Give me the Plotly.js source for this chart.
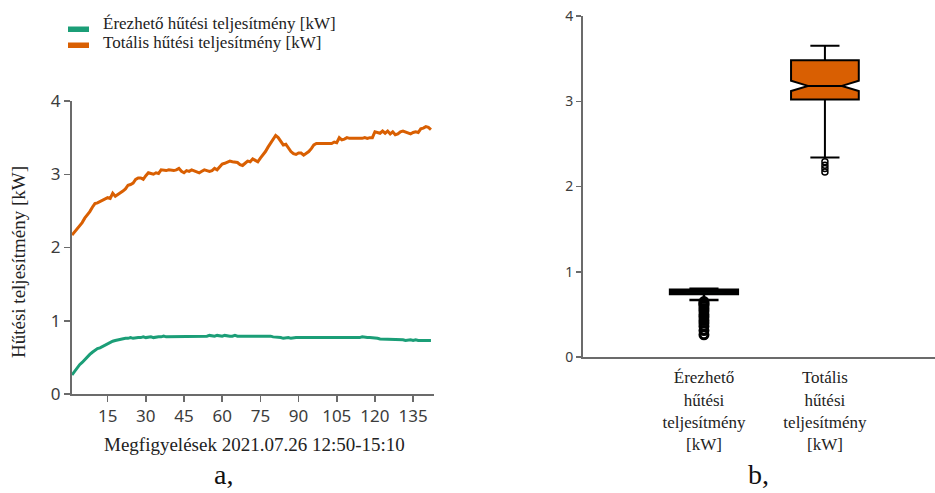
<!DOCTYPE html>
<html>
<head>
<meta charset="utf-8">
<script src="https://cdn.plot.ly/plotly-3.0.1.min.js"></script>
<style>
  html, body { margin: 0; padding: 0; background: #ffffff; }
  #chart { width: 935px; height: 493px; }
</style>
</head>
<body>
<div id="chart"></div>
<script>
// Cooling capacity, one reading per observation (2021.07.26 12:50-15:10)
const sensibleName = "Érezhető hűtési teljesítmény [kW]";
const totalName = "Totális hűtési teljesítmény [kW]";

const sensibleKW = [
  0.26, 0.31, 0.36, 0.40, 0.43, 0.47, 0.50, 0.54, 0.57, 0.60,
  0.62, 0.63, 0.65, 0.67, 0.69, 0.71, 0.72, 0.73, 0.74, 0.75,
  0.75, 0.76, 0.76, 0.77, 0.76, 0.77, 0.77, 0.77, 0.78, 0.77,
  0.78, 0.78, 0.77, 0.78, 0.78, 0.78, 0.79, 0.78, 0.78, 0.79,
  0.78, 0.79, 0.79, 0.79, 0.78, 0.79, 0.79, 0.78, 0.79, 0.79,
  0.79, 0.78, 0.79, 0.79, 0.80, 0.79, 0.79, 0.80, 0.79, 0.79,
  0.80, 0.79, 0.79, 0.79, 0.80, 0.79, 0.79, 0.80, 0.80, 0.79,
  0.80, 0.79, 0.80, 0.79, 0.79, 0.79, 0.80, 0.79, 0.79, 0.78,
  0.78, 0.77, 0.77, 0.76, 0.77, 0.77, 0.76, 0.77, 0.77, 0.77,
  0.77, 0.76, 0.77, 0.77, 0.77, 0.77, 0.76, 0.77, 0.77, 0.77,
  0.77, 0.77, 0.76, 0.77, 0.77, 0.77, 0.76, 0.77, 0.77, 0.77,
  0.77, 0.77, 0.77, 0.77, 0.78, 0.77, 0.77, 0.77, 0.77, 0.76,
  0.76, 0.75, 0.75, 0.75, 0.74, 0.75, 0.74, 0.74, 0.74, 0.74,
  0.74, 0.73, 0.74, 0.74, 0.73, 0.74, 0.73, 0.73, 0.73, 0.73,
  0.73, 0.73
];

const totalKW = [
  2.17, 2.21, 2.25, 2.29, 2.34, 2.40, 2.44, 2.49, 2.55, 2.60,
  2.61, 2.63, 2.65, 2.66, 2.68, 2.67, 2.74, 2.70, 2.72, 2.75,
  2.77, 2.80, 2.85, 2.86, 2.88, 2.93, 2.95, 2.95, 2.93, 2.98,
  3.02, 3.01, 3.00, 3.02, 3.01, 3.06, 3.05, 3.05, 3.06, 3.05,
  3.05, 3.06, 3.08, 3.04, 3.02, 3.05, 3.04, 3.06, 3.05, 3.03,
  3.02, 3.04, 3.06, 3.05, 3.04, 3.05, 3.08, 3.06, 3.10, 3.14,
  3.15, 3.17, 3.18, 3.17, 3.17, 3.16, 3.13, 3.12, 3.15, 3.18,
  3.17, 3.21, 3.19, 3.17, 3.22, 3.26, 3.31, 3.37, 3.42, 3.47,
  3.53, 3.50, 3.44, 3.40, 3.41, 3.36, 3.31, 3.28, 3.27, 3.29,
  3.29, 3.26, 3.28, 3.31, 3.35, 3.40, 3.42, 3.42, 3.43, 3.43,
  3.42, 3.43, 3.42, 3.44, 3.43, 3.50, 3.47, 3.48, 3.50, 3.49,
  3.49, 3.48, 3.49, 3.48, 3.49, 3.50, 3.49, 3.50, 3.50, 3.58,
  3.57, 3.56, 3.59, 3.56, 3.59, 3.55, 3.58, 3.54, 3.55, 3.58,
  3.59, 3.58, 3.56, 3.55, 3.57, 3.58, 3.57, 3.62, 3.63, 3.65,
  3.64, 3.61
];

const xTicks = [15, 30, 45, 60, 75, 90, 105, 120, 135];
const yTicks = [0, 1, 2, 3, 4];
const boxLabels = [
  "Érezhető<br>hűtési<br>teljesítmény<br>[kW]",
  "Totális<br>hűtési<br>teljesítmény<br>[kW]"
];

const GREEN = "#1b9e77";
const ORANGE = "#d95f02";
const AXIS = "#6b6b6b";
const SERIF = "Liberation Serif, Times New Roman, serif";
const SANS = "Noto Sans, Open Sans, sans-serif";

const obs = totalKW.map((_, i) => i + 1);

// pixel helpers for paper-space placement
const W = 935, H = 493;
const px = v => v / W;
const py = v => 1 - v / H;

const traces = [
  {
    type: "scatter", mode: "lines", x: obs, y: sensibleKW, name: sensibleName,
    line: { color: GREEN, width: 3 }, xaxis: "x", yaxis: "y", showlegend: false
  },
  {
    type: "scatter", mode: "lines", x: obs, y: totalKW, name: totalName,
    line: { color: ORANGE, width: 3 }, xaxis: "x", yaxis: "y", showlegend: false
  },
  {
    type: "box", y: sensibleKW, x0: 0, name: sensibleName,
    xaxis: "x2", yaxis: "y2", notched: true, boxpoints: "outliers",
    pointpos: 0, jitter: 0, width: 0.56, whiskerwidth: 0.43,
    fillcolor: "#061410", line: { color: "#000000", width: 2.5 },
    marker: { symbol: "circle-open", color: "#000000", size: 8, line: { width: 3 } },
    showlegend: false
  },
  {
    type: "box", y: totalKW, x0: 1, name: totalName,
    xaxis: "x2", yaxis: "y2", notched: true, boxpoints: "outliers",
    pointpos: 0, jitter: 0, width: 0.56, whiskerwidth: 0.43,
    fillcolor: ORANGE, line: { color: "#000000", width: 2 },
    marker: { symbol: "circle-open", color: "#000000", size: 6, line: { width: 1.5 } },
    showlegend: false
  }
];

const axisCommon = {
  showline: true, linecolor: AXIS, linewidth: 2,
  ticks: "outside", tickcolor: AXIS, tickwidth: 1.5,
  showgrid: false, zeroline: false, fixedrange: true
};

const layout = {
  width: W, height: H,
  margin: { l: 0, r: 0, t: 0, b: 0 },
  paper_bgcolor: "#ffffff", plot_bgcolor: "#ffffff",
  showlegend: false,
  xaxis: Object.assign({}, axisCommon, {
    domain: [px(72), px(434)], range: [1, 143.2],
    tickmode: "array", tickvals: xTicks, ticklen: 6,
    tickfont: { family: SANS, size: 17, color: "#3c3c3c" }
  }),
  yaxis: Object.assign({}, axisCommon, {
    domain: [py(394), py(101)], range: [0, 4],
    tickmode: "array", tickvals: yTicks, ticklen: 6,
    tickfont: { family: SANS, size: 17, color: "#3c3c3c" }
  }),
  xaxis2: Object.assign({}, axisCommon, {
    anchor: "y2", domain: [px(583), 1], range: [-1, 1.91],
    ticks: "", tickmode: "array", tickvals: [0, 1], ticktext: boxLabels,
    ticklabelstandoff: 4,
    tickfont: { family: SERIF, size: 17, color: "#222222" }
  }),
  yaxis2: Object.assign({}, axisCommon, {
    anchor: "x2", domain: [py(357), py(16)], range: [0, 4],
    tickmode: "array", tickvals: yTicks, ticklen: 5,
    tickfont: { family: SANS, size: 14, color: "#3c3c3c" }
  }),
  shapes: [
    { type: "rect", xref: "paper", yref: "paper",
      x0: px(68), x1: px(89), y0: py(32), y1: py(26.5),
      fillcolor: GREEN, line: { width: 0 } },
    { type: "rect", xref: "paper", yref: "paper",
      x0: px(68), x1: px(89), y0: py(48), y1: py(42.5),
      fillcolor: ORANGE, line: { width: 0 } }
  ],
  annotations: [
    { text: sensibleName, xref: "paper", yref: "paper", x: px(101), y: py(23.5),
      xanchor: "left", yanchor: "middle", showarrow: false,
      font: { family: SERIF, size: 17, color: "#222222" } },
    { text: totalName, xref: "paper", yref: "paper", x: px(101), y: py(42),
      xanchor: "left", yanchor: "middle", showarrow: false,
      font: { family: SERIF, size: 17, color: "#222222" } },
    { text: "Hűtési teljesítmény [kW]", xref: "paper", yref: "paper",
      x: px(18), y: py(262), textangle: -90, xanchor: "center", yanchor: "middle",
      showarrow: false, font: { family: SERIF, size: 19, color: "#222222" } },
    { text: "Megfigyelések 2021.07.26 12:50-15:10", xref: "paper", yref: "paper",
      x: px(254), y: py(444), xanchor: "center", yanchor: "middle",
      showarrow: false, font: { family: SERIF, size: 19, color: "#222222" } },
    { text: "a,", xref: "paper", yref: "paper", x: px(223), y: py(474),
      xanchor: "center", yanchor: "middle", showarrow: false,
      font: { family: SERIF, size: 28, color: "#111111" } },
    { text: "b,", xref: "paper", yref: "paper", x: px(758), y: py(474),
      xanchor: "center", yanchor: "middle", showarrow: false,
      font: { family: SERIF, size: 28, color: "#111111" } }
  ]
};

Plotly.newPlot("chart", traces, layout, { staticPlot: true, displayModeBar: false });
</script>
</body>
</html>
